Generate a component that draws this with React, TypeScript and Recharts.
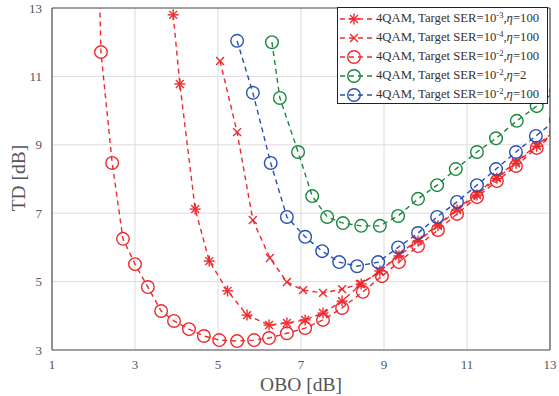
import React from 'react';
import { LineChart, Line, XAxis, YAxis, CartesianGrid, ReferenceLine } from 'recharts';

// OBO [dB] / TD [dB] pairs
const oboSer3 = [3.92, 4.08, 4.45, 4.79, 5.23, 5.7, 6.23, 6.66, 7.1, 7.53, 7.99, 8.45, 8.9, 9.36, 9.82, 10.3, 10.76, 11.24, 11.72, 12.18, 12.68, 13.14];
const tdSer3 = [12.8, 10.78, 7.12, 5.6, 4.73, 4.02, 3.73, 3.79, 3.88, 4.08, 4.43, 4.93, 5.31, 5.75, 6.19, 6.63, 7.09, 7.53, 8.02, 8.46, 8.96, 9.38];

const oboSer4 = [5.05, 5.46, 5.84, 6.25, 6.66, 7.05, 7.53, 7.99, 8.42, 8.9, 9.36, 9.82, 10.3, 10.76, 11.24, 11.72, 12.18, 12.68, 13.14];
const tdSer4 = [11.45, 9.37, 6.8, 5.69, 4.99, 4.75, 4.67, 4.78, 4.93, 5.28, 5.81, 6.22, 6.66, 7.12, 7.58, 8.06, 8.5, 8.99, 9.42];

const oboSer2 = [2.1, 2.18, 2.45, 2.71, 3.0, 3.31, 3.63, 3.94, 4.3, 4.66, 5.03, 5.46, 5.87, 6.23, 6.66, 7.1, 7.53, 7.99, 8.49, 8.95, 9.36, 9.82, 10.3, 10.76, 11.24, 11.72, 12.18, 12.68, 13.14];
const tdSer2 = [15.5, 11.71, 8.47, 6.25, 5.51, 4.84, 4.14, 3.85, 3.61, 3.41, 3.29, 3.26, 3.29, 3.35, 3.49, 3.64, 3.88, 4.23, 4.7, 5.16, 5.57, 6.04, 6.51, 6.98, 7.47, 7.94, 8.38, 8.91, 9.36];

const oboEta2 = [6.3, 6.49, 6.93, 7.27, 7.63, 8.01, 8.45, 8.9, 9.34, 9.82, 10.28, 10.73, 11.24, 11.7, 12.2, 12.68, 13.14];
const tdEta2 = [12.0, 10.37, 8.79, 7.5, 6.89, 6.71, 6.63, 6.63, 6.92, 7.42, 7.82, 8.29, 8.79, 9.19, 9.7, 10.13, 10.58];

const oboBlue = [5.46, 5.84, 6.27, 6.66, 7.1, 7.51, 7.92, 8.35, 8.86, 9.34, 9.82, 10.28, 10.76, 11.24, 11.7, 12.18, 12.66, 13.14];
const tdBlue = [12.04, 10.52, 8.47, 6.89, 6.31, 5.89, 5.57, 5.45, 5.57, 6.0, 6.42, 6.89, 7.33, 7.82, 8.29, 8.79, 9.26, 9.72];

const xTicks = [1, 3, 5, 7, 9, 11, 13];
const yTicks = [3, 5, 7, 9, 11, 13];

const RED = '#ee2a2e';
const GREEN = '#17883c';
const BLUE = '#2750b4';
const FONT = '"Liberation Serif", "Times New Roman", serif';

const zip = (xs: number[], ys: number[]) => xs.map((x, i) => ({ x, y: ys[i] }));

type MarkerKind = 'star' | 'cross' | 'circle';

const Marker = ({ kind, cx, cy, color }: { kind: MarkerKind; cx: number; cy: number; color: string }) => {
  if (kind === 'circle') {
    return <circle cx={cx} cy={cy} r={6.3} fill="none" stroke={color} strokeWidth={1.4} />;
  }
  const r = 5.5;
  const d = r * 0.72;
  if (kind === 'cross') {
    return (
      <g stroke={color} strokeWidth={1.4}>
        <line x1={cx - d} y1={cy - d} x2={cx + d} y2={cy + d} />
        <line x1={cx - d} y1={cy + d} x2={cx + d} y2={cy - d} />
      </g>
    );
  }
  return (
    <g stroke={color} strokeWidth={1.4}>
      <line x1={cx - d} y1={cy - d} x2={cx + d} y2={cy + d} />
      <line x1={cx - d} y1={cy + d} x2={cx + d} y2={cy - d} />
      <line x1={cx - r} y1={cy} x2={cx + r} y2={cy} />
      <line x1={cx} y1={cy - r} x2={cx} y2={cy + r} />
    </g>
  );
};

const dotFor = (kind: MarkerKind, color: string) => (props: any) => {
  const { cx, cy, index } = props;
  if (cx == null || cy == null) return <g key={`e-${index}`} />;
  return (
    <g key={`m-${index}`}>
      <Marker kind={kind} cx={cx} cy={cy} color={color} />
    </g>
  );
};

const series = [
  { key: 'ser3', data: zip(oboSer3, tdSer3), color: RED, kind: 'star' as MarkerKind, exp: '-3', eta: '100' },
  { key: 'ser4', data: zip(oboSer4, tdSer4), color: RED, kind: 'cross' as MarkerKind, exp: '-4', eta: '100' },
  { key: 'ser2', data: zip(oboSer2, tdSer2), color: RED, kind: 'circle' as MarkerKind, exp: '-2', eta: '100' },
  { key: 'eta2', data: zip(oboEta2, tdEta2), color: GREEN, kind: 'circle' as MarkerKind, exp: '-2', eta: '2' },
  { key: 'blue', data: zip(oboBlue, tdBlue), color: BLUE, kind: 'circle' as MarkerKind, exp: '-2', eta: '100' },
];

const LegendBox = () => (
  <div
    style={{
      position: 'absolute',
      left: 337,
      top: 7,
      width: 211,
      height: 97,
      border: '1px solid #222',
      background: '#fff',
      fontFamily: FONT,
      fontSize: 12.7,
      color: '#333',
      boxSizing: 'border-box',
      paddingTop: 1,
    }}
  >
    {series.map((s) => (
      <div key={s.key} style={{ display: 'flex', alignItems: 'center', height: 19, whiteSpace: 'nowrap' }}>
        <svg width={38} height={19} style={{ flex: 'none' }}>
          <line x1={2} y1={10} x2={34} y2={10} stroke={s.color} strokeWidth={1.4} strokeDasharray="5 4" />
          <Marker kind={s.kind} cx={16} cy={10} color={s.color} />
        </svg>
        <span>
          4QAM, Target SER=10<sup style={{ fontSize: 8.5, verticalAlign: 4, lineHeight: 0 }}>{s.exp}</sup>,
          <i>η</i>={s.eta}
        </span>
      </div>
    ))}
  </div>
);

export default function App() {
  return (
    <div style={{ position: 'absolute', left: 0, top: 0, width: 559, height: 396, background: '#fff' }}>
      <LineChart width={559} height={396} margin={{ top: 8, right: 9, left: 0, bottom: 0 }}>
        <CartesianGrid stroke="#dcdcdc" strokeWidth={1} />
        <XAxis
          dataKey="x"
          type="number"
          domain={[1, 13]}
          ticks={xTicks}
          allowDataOverflow
          height={46}
          tickLine={false}
          axisLine={{ stroke: '#555', strokeWidth: 1.2 }}
          tick={{ fill: '#555', fontSize: 13, fontFamily: FONT }}
          tickMargin={4}
          label={{
            content: () => (
              <text x={301} y={391} textAnchor="middle" fill="#555" fontSize={19.5} fontFamily={FONT}>
                OBO [dB]
              </text>
            ),
          }}
        />
        <YAxis
          dataKey="y"
          type="number"
          domain={[3, 13]}
          ticks={yTicks}
          allowDataOverflow
          width={52}
          tickLine={false}
          axisLine={{ stroke: '#555', strokeWidth: 1.2 }}
          tick={{ fill: '#555', fontSize: 13, fontFamily: FONT }}
          tickMargin={4}
          label={{
            content: () => (
              <text x={25} y={178} transform="rotate(-90 25 178)" textAnchor="middle" fill="#555" fontSize={19.5} fontFamily={FONT}>
                TD [dB]
              </text>
            ),
          }}
        />
        <ReferenceLine x={13} stroke="#555" strokeWidth={1.2} />
        <ReferenceLine y={13} stroke="#555" strokeWidth={1.2} />
        {series.map((s) => (
          <Line
            key={s.key}
            data={s.data}
            dataKey="y"
            type="linear"
            stroke={s.color}
            strokeWidth={1.4}
            strokeDasharray="5 4"
            dot={dotFor(s.kind, s.color)}
            activeDot={false}
            isAnimationActive={false}
          />
        ))}
      </LineChart>
      <LegendBox />
    </div>
  );
}
